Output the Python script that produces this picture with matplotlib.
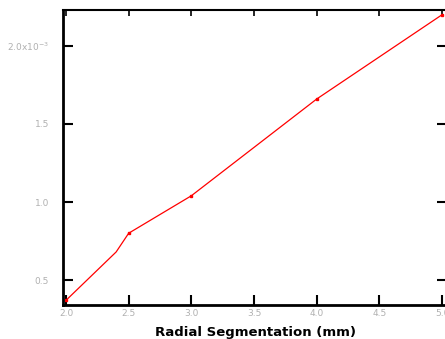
import matplotlib.pyplot as plt

# data
seg = [2.0, 2.4, 2.5, 3.0, 4.0, 5.0]
val = [0.37, 0.68, 0.80, 1.04, 1.66, 2.20]
mark_x = [2.0, 2.5, 3.0, 4.0, 5.0]
mark_y = [0.37, 0.80, 1.04, 1.66, 2.20]

xticks = [2.0, 2.5, 3.0, 3.5, 4.0, 4.5, 5.0]
yticks = [0.5, 1.0, 1.5, 2.0]
ylabels = ["0.5", "1.0", "1.5", r"2.0x10$^{-3}$"]

fig = plt.figure(figsize=(4.45, 3.39), dpi=100)
ax = fig.add_axes([0.1416, 0.1003, 0.863, 0.870])

ax.plot(seg, val, color="red", lw=0.9)
ax.plot(mark_x, mark_y, "s", color="red", ms=2)

ax.set_xlim(1.976, 5.04)
ax.set_ylim(0.34, 2.23)
ax.set_xticks(xticks)
ax.set_xticklabels(["%.1f" % t for t in xticks])
ax.set_yticks(yticks)
ax.set_yticklabels(ylabels)

ax.tick_params(direction="in", length=7, width=1.5, colors="black",
               labelcolor="#b0b0b0", labelsize=6.5, top=True, right=True)
ax.tick_params(axis="x", which="major", pad=3)
ax.tick_params(axis="y", pad=10)
ax.xaxis.set_tick_params(which="major", top=True)
for t in ax.xaxis.get_major_ticks():
    t.tick2line.set_markersize(4)
    t.tick2line.set_markeredgewidth(1.2)
ax.spines["top"].set_linewidth(1.5)
ax.spines["left"].set_linewidth(2)
ax.spines["bottom"].set_linewidth(2)
ax.spines["right"].set_linewidth(2)

ax.set_xlabel("Radial Segmentation (mm)", fontsize=9.5, fontweight="bold", labelpad=6)

fig.savefig("out.png", dpi=100)
